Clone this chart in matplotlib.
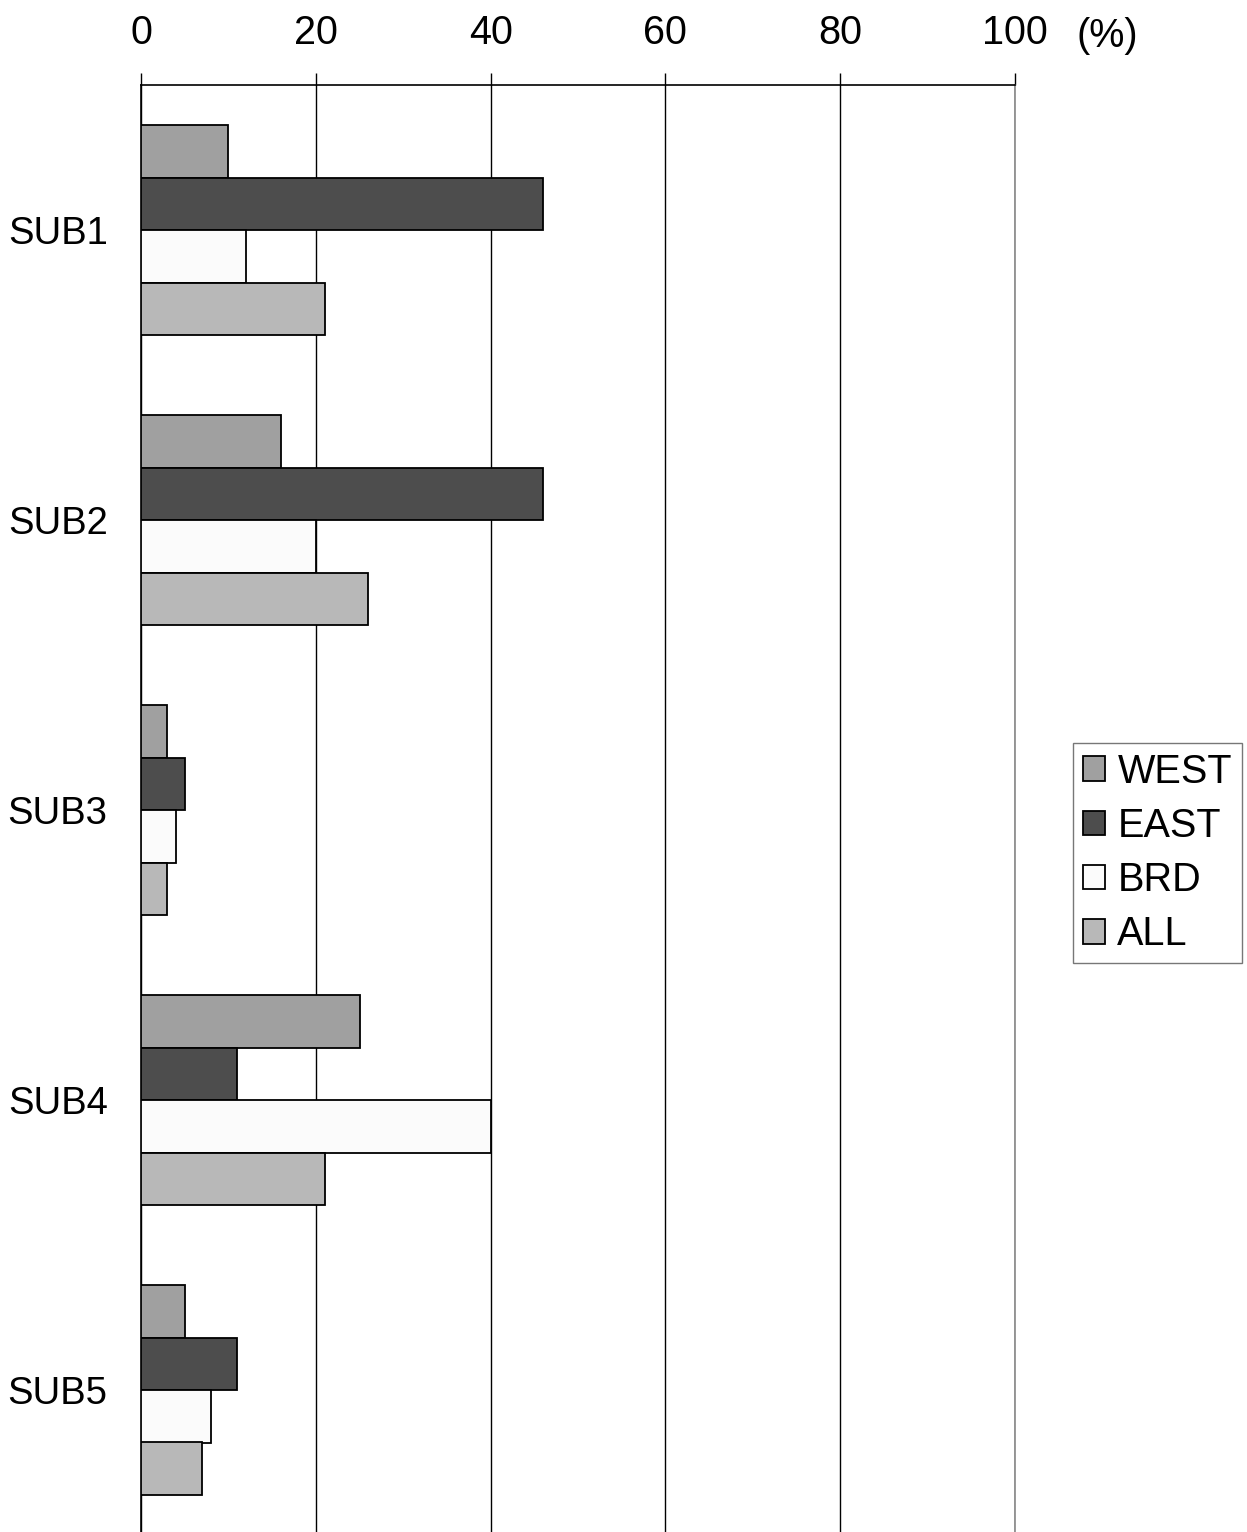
import matplotlib
matplotlib.use("Agg")
import matplotlib.pyplot as plt
import numpy as np

plt.rcParams['font.family'] = ['Liberation Sans', 'DejaVu Sans']

categories = ["SUB1", "SUB2", "SUB3", "SUB4", "SUB5"]
series_names = ["WEST", "EAST", "BRD", "ALL"]
west = [10, 16, 3, 25, 5]
east = [46, 46, 5, 11, 11]
brd = [12, 20, 4, 40, 8]
all_ = [21, 26, 3, 21, 7]
x_ticks = [0, 20, 40, 60, 80, 100]

series = [west, east, brd, all_]
colors = ["#a0a0a0", "#4d4d4d", "#fbfbfb", "#b8b8b8"]

FS = 28.5
W, H = 1247, 1532
fig = plt.figure(figsize=(W / 100, H / 100), dpi=100)
ax = fig.add_axes([141 / W, 0.0, (1015 - 141) / W, (1532 - 85) / H])

band_px = 290.0
axes_h_px = 1532 - 85
bar_h = 52.5 / band_px
ypos = np.arange(len(categories))

for k, (vals, col, name) in enumerate(zip(series, colors, series_names)):
    offs = (k - 1.5) * bar_h
    ax.barh(ypos + offs, vals, height=bar_h, color=col, edgecolor="black",
            linewidth=1.3, label=name, zorder=3)

ax.set_xlim(0, 100)
ax.set_ylim(-0.5 + axes_h_px / band_px, -0.5)

ax.set_xticks(x_ticks)
ax.xaxis.tick_top()
ax.tick_params(axis="x", which="major", direction="out", length=9, width=1,
               labelsize=FS, pad=15, colors="black")
ax.set_yticks(ypos)
ax.set_yticklabels(categories)
ax.tick_params(axis="y", length=0, labelsize=27.5, pad=24)

ax.grid(axis="x", color="black", linewidth=1, zorder=0)
ax.grid(axis="y", visible=False)

for side in ["top", "left"]:
    ax.spines[side].set_color("black")
    ax.spines[side].set_linewidth(1.2)
ax.spines["right"].set_color("#888888")
ax.spines["right"].set_linewidth(1.2)
ax.spines["bottom"].set_visible(False)

fig.text(1107 / W, 1 - 36 / H, "(%)", fontsize=FS, ha="center", va="center")

leg = fig.legend(loc="center left", bbox_to_anchor=(1073 / W, 1 - 853 / H),
                 fontsize=FS, frameon=True, fancybox=False, borderaxespad=0,
                 handlelength=0.57, handleheight=0.57, handletextpad=0.3,
                 labelspacing=0.41, borderpad=0.25)
leg.get_frame().set_edgecolor("#555555")
leg.get_frame().set_linewidth(1.0)

fig.savefig("out.png", dpi=100)
